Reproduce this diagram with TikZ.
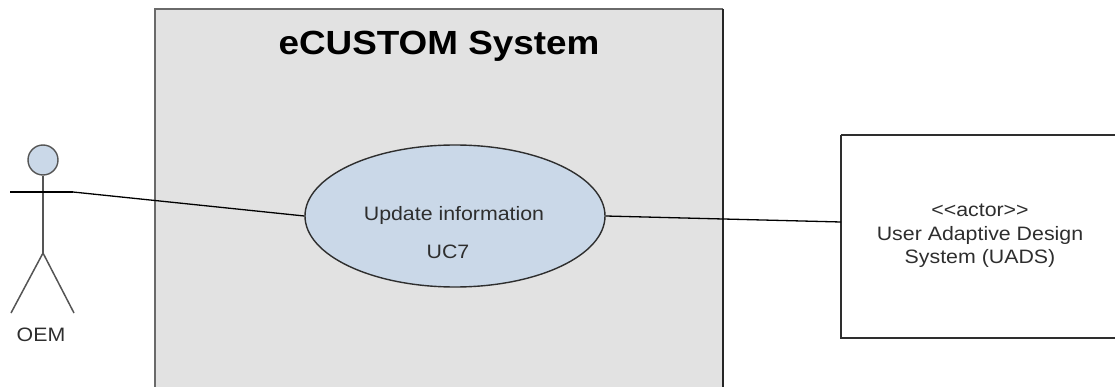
\documentclass[tikz,border=0pt]{standalone}
\usepackage{fontspec}
\setmainfont{Liberation Sans}[FakeStretch=1.1]
% plain family without TeX ligatures, so that << and >> stay as typed
\newfontfamily\plainsans{Liberation Sans}[FakeStretch=1.1, Ligatures=ResetAll]
\usetikzlibrary{shapes.geometric}
\definecolor{sysfill}{HTML}{E2E2E2}
\definecolor{sysline}{HTML}{6A6A6A}
\definecolor{ucfill}{HTML}{CAD8E8}
\definecolor{inkline}{HTML}{2E2E2E}
\tikzset{
  lbl/.style={font=\fontsize{19.4}{23.5}\selectfont, text=inkline, inner sep=0pt, align=center},
  usecase/.style={ellipse, draw=inkline, line width=1.4pt, fill=ucfill,
                  minimum width=300pt, minimum height=142pt, inner sep=0pt},
  assoc/.style={draw=black, line width=1.3pt},
  stick/.style={draw=sysline!80!black, line width=1.5pt},
}
\begin{document}
\begin{tikzpicture}[x=1pt,y=-1pt]
\useasboundingbox (0,0) rectangle (1115,387);
\clip (0,0) rectangle (1115,387);

% system boundary
\path[fill=sysfill] (155,9) rectangle (723,400);
\draw[sysline, line width=2pt] (155,400) -- (155,9) -- (723,9);
\draw[black!85, line width=1.6pt] (723,9) -- (723,400);
\node[font=\bfseries\fontsize{33.5}{40}\selectfont, inner sep=0pt, anchor=base] (title) at (439,55) {eCUSTOM System};

% use case
\node[usecase] (uc) at (455,216) {};
\node[lbl] (uctext) at (454,215) {Update information};
\node[lbl] (ucid) at (448,252) {UC7};

% external system actor
\draw[inkline, line width=1.6pt] (841,135) -- (1120,135);
\draw[inkline, line width=1.6pt] (841,135) -- (841,338) -- (1120,338);
\coordinate (uadsw) at (841,222);
\node[lbl] (uads) at (980,236) {{\plainsans <<actor>>}\\User Adaptive Design\\System (UADS)};

% stick figure actor
\node[circle, draw=sysline!80!black, line width=1.4pt, fill=ucfill, minimum size=30pt, inner sep=0pt] (head) at (43,160) {};
\coordinate (hip) at (43,253);
\coordinate (armL) at (10,192);
\coordinate (armR) at (73,192);
\draw[stick] (head.south) -- (hip);
\draw[stick] (hip) -- (11,313);
\draw[stick] (hip) -- (74,313);
\draw[assoc] (armL) -- (armR);
\node[lbl] (oem) at (41,335) {OEM};

% associations
\draw[assoc] (armR) -- (uc.west);
\draw[assoc] (uc.east) -- (uadsw);
\end{tikzpicture}
\end{document}
